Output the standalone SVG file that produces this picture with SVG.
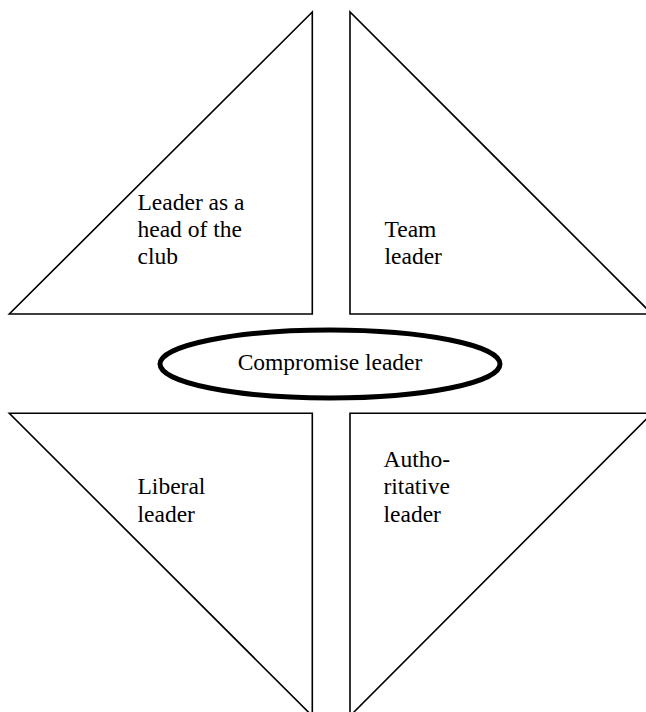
<svg xmlns="http://www.w3.org/2000/svg" width="646" height="712" viewBox="0 0 646 712">
  <style>
    .tri { fill: #fff; stroke: #000; stroke-width: 1.6; stroke-linejoin: miter; }
    .oval { fill: #fff; stroke: #000; stroke-width: 5; }
    .lbl { font-family: "Liberation Serif", "Times New Roman", serif; font-size: 23.5px; fill: #000; }
  </style>
  <rect width="646" height="712" fill="#fff"/>

  <!-- upper left quadrant -->
  <g id="head-of-club">
    <polygon class="tri" points="312.3,12 9.3,314 312.3,314"/>
    <text class="lbl" x="137.5" y="209.5">Leader as a</text>
    <text class="lbl" x="137.5" y="236.5">head of the</text>
    <text class="lbl" x="137.5" y="263.5">club</text>
  </g>

  <!-- upper right quadrant -->
  <g id="team-leader">
    <polygon class="tri" points="350,12 350,314 652,314"/>
    <text class="lbl" x="384.5" y="236.5">Team</text>
    <text class="lbl" x="384.5" y="263.5">leader</text>
  </g>

  <!-- lower left quadrant -->
  <g id="liberal-leader">
    <polygon class="tri" points="9.3,413.3 312.3,413.3 312.3,716"/>
    <text class="lbl" x="137.5" y="493.5">Liberal</text>
    <text class="lbl" x="137.5" y="521.5">leader</text>
  </g>

  <!-- lower right quadrant -->
  <g id="authoritative-leader">
    <polygon class="tri" points="350,413.3 652,413.3 350,716"/>
    <text class="lbl" x="383.5" y="466.5">Autho-</text>
    <text class="lbl" x="383.5" y="493.5">ritative</text>
    <text class="lbl" x="383.5" y="521.5">leader</text>
  </g>

  <!-- centre -->
  <g id="compromise-leader">
    <ellipse class="oval" cx="330" cy="364" rx="170" ry="34"/>
    <text class="lbl" x="330" y="369.5" text-anchor="middle">Compromise leader</text>
  </g>

  <g id="connectors"/>
</svg>
